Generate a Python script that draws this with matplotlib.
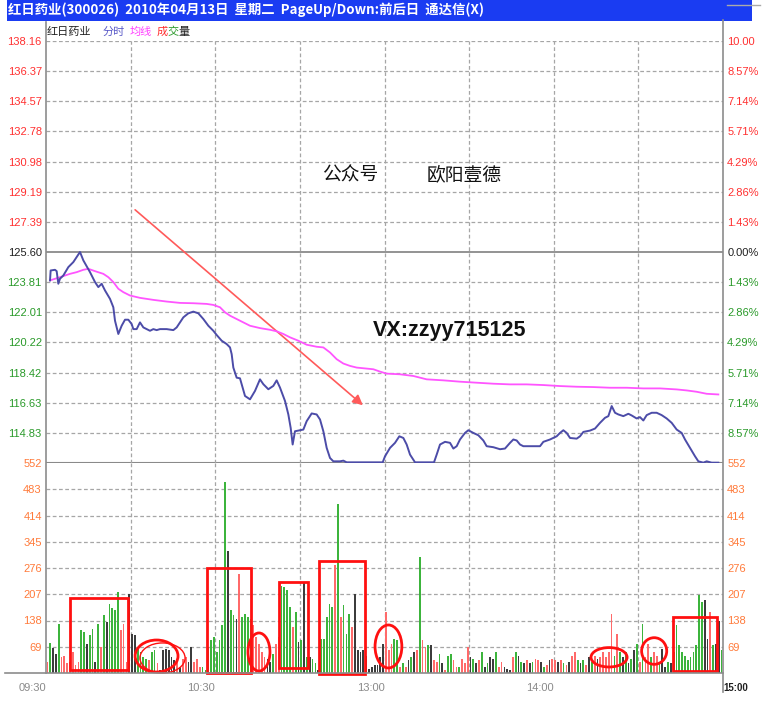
import matplotlib
matplotlib.use("Agg")
import matplotlib.pyplot as plt
from matplotlib.patches import Rectangle, Ellipse
from matplotlib.lines import Line2D

plt.rcParams['font.family'] = ['Liberation Sans', 'Noto Sans CJK SC', 'DejaVu Sans']

# ---------------- data ----------------
price_ticks = [138.16, 136.37, 134.57, 132.78, 130.98, 129.19, 127.39, 125.60,
               123.81, 122.01, 120.22, 118.42, 116.63, 114.83]
price_labels = ["138.16", "136.37", "134.57", "132.78", "130.98", "129.19", "127.39",
                "125.60", "123.81", "122.01", "120.22", "118.42", "116.63", "114.83"]
pct_labels = ["10.00", "8.57%", "7.14%", "5.71%", "4.29%", "2.86%", "1.43%", "0.00%",
              "1.43%", "2.86%", "4.29%", "5.71%", "7.14%", "8.57%"]
label_tone = ['r'] * 7 + ['k'] + ['g'] * 6
prev_close = 125.60
price_low, price_high = 113.04, 138.16
vol_ticks = [552, 483, 414, 345, 276, 207, 138, 69]
vol_labels = ["552", "483", "414", "345", "276", "207", "138", "69"]
time_ticks = [0, 60, 120, 180, 240]
time_labels = ["09:30", "10:30", "13:00", "14:00", "15:00"]
grid_minutes = [30, 60, 90, 120, 150, 180, 210]

# price line (minute, price)
price_min = [1.42, 1.65, 3.19, 3.78, 4.37, 4.96, 6.14, 7.92, 9.69, 10.87, 12.05, 13.24, 15.60,
             17.37, 18.55, 19.73, 20.92, 22.69, 23.87, 24.46, 25.64, 26.82, 28.01, 29.19, 30.37,
             30.96, 32.14, 33.32, 34.51, 35.69, 36.87, 38.05, 39.23, 40.41, 42.78, 45.14, 46.32,
             47.50, 48.69, 50.46, 52.23, 54.00, 55.78, 57.55, 59.32, 60.50, 62.27, 64.05, 65.23,
             65.82, 66.41, 67.59, 68.77, 69.37, 70.55, 72.32, 74.09, 75.86, 77.05, 78.82, 80.59,
             81.77, 82.95, 84.73, 85.91, 86.74, 87.44, 88.27, 91.23, 92.41, 94.18, 95.95, 97.14,
             98.32, 99.50, 100.68, 101.86, 104.22, 105.41, 106.59,
             119.36, 120.18, 121.96, 123.73, 125.26, 126.68, 127.86, 129.05, 130.82, 136.14,
             137.55, 138.50, 139.68, 141.45, 143.23, 144.41, 145.59, 146.77, 148.54, 149.72,
             151.50, 153.27, 155.04, 156.22, 158.59, 160.95, 162.72, 164.50, 165.68, 166.86,
             168.04, 169.22, 175.13, 176.31, 178.68, 181.04, 182.22, 183.40, 184.58, 185.77,
             188.13, 189.31, 190.49, 192.86, 194.63, 196.40, 198.17, 199.36, 200.54, 201.72,
             202.90, 204.67, 206.45, 207.63, 209.40, 210.58, 211.76, 212.95, 214.72, 216.49,
             218.26, 220.04, 221.81, 223.58, 225.35, 226.53, 228.31, 230.08, 231.26, 233.03,
             234.21, 235.99, 238.35]
price_val = [123.91, 124.50, 124.54, 124.46, 123.71, 124.01, 124.20, 124.70, 125.00, 125.30,
             125.60, 125.10, 124.40, 123.81, 123.51, 123.71, 123.31, 122.81, 122.31, 121.51,
             120.72, 121.21, 121.57, 121.57, 121.31, 121.01, 121.01, 121.41, 121.11, 121.01,
             120.91, 121.01, 120.95, 121.01, 121.01, 120.95, 121.11, 121.41, 121.71, 121.95,
             122.05, 121.95, 121.61, 121.21, 120.91, 120.66, 120.32, 120.12, 119.92, 119.52,
             118.72, 118.12, 118.08, 117.73, 117.03, 116.83, 117.33, 118.02, 117.73, 117.43,
             117.63, 117.96, 117.53, 116.73, 115.93, 115.13, 114.14, 114.93, 115.03, 115.53,
             115.99, 115.93, 115.63, 114.93, 113.94, 113.34, 113.14, 113.14, 113.18, 113.08,
             113.08, 113.44, 113.94, 114.24, 114.63, 114.53, 114.14, 113.54, 113.08, 113.08,
             113.08, 113.54, 114.14, 114.30, 114.24, 113.90, 114.04, 114.44, 114.83, 114.99,
             114.83, 114.69, 114.38, 114.04, 113.98, 113.86, 113.90, 114.24, 114.44, 114.38,
             114.14, 114.04, 114.04, 114.30, 114.44, 114.63, 114.83, 114.99, 114.83, 114.53,
             114.49, 114.63, 114.89, 114.97, 115.09, 115.43, 115.73, 115.83, 116.43, 116.03,
             115.93, 115.83, 115.97, 115.87, 115.69, 115.77, 115.57, 115.89, 116.03, 116.03,
             115.89, 115.69, 115.43, 115.03, 114.83, 114.44, 113.94, 113.44, 113.14, 113.06,
             113.14, 113.06, 113.06]

# average line (minute, price)
avg_min = [1.42, 4.96, 8.51, 10.87, 13.24, 15.01, 17.37, 20.32, 22.10, 23.87, 25.64, 27.41,
           29.78, 33.32, 38.05, 42.78, 47.50, 52.23, 56.96, 59.32, 61.68, 63.46, 65.23, 68.77,
           72.32, 75.86, 79.41, 81.77, 84.14, 86.50, 89.45, 92.41, 95.95, 98.32, 100.68, 103.04,
           105.41, 107.77, 110.13, 112.50, 116.04, 118.41, 120.77, 125.50, 130.23, 134.95,
           140.86, 146.77, 152.68, 158.59, 164.50, 170.40, 176.31, 182.22, 188.13, 194.04,
           199.95, 205.86, 211.76, 217.67, 223.58, 227.13, 230.67, 234.21, 238.35]
avg_val = [123.91, 124.10, 124.30, 124.40, 124.54, 124.60, 124.46, 124.30, 124.10, 123.81,
           123.41, 123.21, 123.01, 122.87, 122.75, 122.65, 122.57, 122.55, 122.51, 122.45,
           122.31, 122.01, 121.81, 121.51, 121.21, 121.07, 120.97, 120.88, 120.72, 120.52,
           120.32, 120.08, 119.96, 119.92, 119.62, 119.22, 118.96, 118.82, 118.72, 118.68,
           118.62, 118.48, 118.36, 118.32, 118.22, 118.02, 117.96, 117.88, 117.82, 117.76,
           117.72, 117.72, 117.68, 117.62, 117.58, 117.56, 117.52, 117.52, 117.48, 117.48,
           117.42, 117.36, 117.28, 117.16, 117.12]

# per-minute volume and bar colour (r = up, g = down, k = flat)
volume = [30, 80, 65, 50, 130, 42, 44, 25, 28, 55,
          20, 30, 112, 107, 77, 99, 116, 28, 130, 69,
          152, 134, 182, 170, 165, 213, 112, 130, 30, 208,
          103, 99, 68, 55, 42, 38, 33, 55, 60, 25,
          8, 60, 64, 60, 42, 33, 29, 16, 38, 42,
          29, 68, 29, 38, 16, 16, 7, 68, 86, 95,
          55, 86, 125, 502, 322, 165, 152, 143, 261, 147,
          156, 147, 143, 125, 95, 77, 55, 42, 38, 29,
          51, 77, 95, 230, 226, 217, 173, 121, 160, 81,
          86, 239, 42, 42, 38, 25, 7, 90, 90, 147,
          182, 173, 283, 445, 147, 178, 103, 156, 121, 208,
          60, 55, 60, 46, 11, 16, 20, 20, 42, 77,
          160, 60, 77, 90, 86, 16, 25, 16, 33, 42,
          55, 60, 305, 86, 68, 73, 73, 33, 29, 51,
          25, 7, 46, 51, 33, 16, 16, 38, 25, 68,
          42, 38, 25, 33, 55, 16, 25, 42, 38, 55,
          16, 29, 16, 11, 7, 42, 55, 46, 29, 25,
          33, 25, 29, 38, 33, 29, 16, 20, 33, 38,
          33, 29, 33, 25, 20, 29, 46, 55, 33, 25,
          33, 20, 42, 29, 46, 38, 42, 55, 42, 55,
          156, 46, 103, 55, 42, 55, 25, 38, 60, 77,
          29, 130, 42, 77, 42, 55, 46, 25, 64, 16,
          29, 25, 55, 125, 73, 55, 46, 33, 42, 55,
          73, 204, 187, 191, 90, 160, 73, 77, 138, 60]
vol_dir = ("rgkkgrrrrr" "rrggkggkgr" "gkggggrrrk" "kkggggrggr" "kkkkkkrkrr"
           "kkrrrggggg" "ggggkggkrg" "gggrrrrrkk" "grrggggrgk" "gkgkggkggg"
           "ggrgrgggrk" "kkkkkkkkkk" "rrrggrgrkg" "krgrrgkrrg" "krggrrgrrr"
           "kgkrgkgkkg" "rrkkkrgkgk" "rkgrrkgrkr" "rkrgrkrrgk" "grkgrkrrrr"
           "rgrgkgkgkg" "rgrrgrrgkk" "gkgggggggg" "gggkkrgkkg")

COL = {'r': '#ff6a6a', 'g': '#3cb43c', 'k': '#3c3c3c'}
TXT = {'r': '#ff3030', 'g': '#2a9a2a', 'k': '#202020'}
ORANGE = '#ff7a3a'

# ---------------- figure geometry ----------------
W, H = 763, 703
fig = plt.figure(figsize=(W / 100, H / 100), dpi=100)
fig.patch.set_facecolor('white')


def fx(px):
    return px / W


def fy(py):
    return 1 - py / H


X0, X1 = 46, 723
YP0, YP1, YV1 = 41, 463, 673

ax_p = fig.add_axes([fx(X0), fy(YP1), (X1 - X0) / W, (YP1 - YP0) / H])
ax_v = fig.add_axes([fx(X0), fy(YV1), (X1 - X0) / W, (YV1 - YP1) / H])

for ax in (ax_p, ax_v):
    ax.set_xlim(0, 240)
    ax.set_facecolor('none')
    for s in ax.spines.values():
        s.set_visible(False)
    ax.tick_params(axis='both', length=0)

ax_p.set_ylim(price_low, price_high)
ax_v.set_ylim(0, 552)

# grid
GRID = '#a6a6a6'
for p in price_ticks:
    if p == prev_close:
        ax_p.axhline(p, color='#8a8a8a', lw=1.3, zorder=1)
    else:
        ax_p.axhline(p, color=GRID, lw=0.9, ls=(0, (3, 2)), zorder=1)
ax_p.axhline(price_low, color='#8a8a8a', lw=1.5, zorder=1)
for v in vol_ticks[1:]:
    ax_v.axhline(v, color=GRID, lw=0.9, ls=(0, (3, 2)), zorder=1)
for m in grid_minutes:
    ax_p.axvline(m, color=GRID, lw=0.9, ls=(0, (3, 2)), zorder=1)
    ax_v.axvline(m, color=GRID, lw=0.9, ls=(0, (3, 2)), zorder=1)

# data
ax_p.plot(avg_min, avg_val, color='#ff55ff', lw=1.3, zorder=4)
ax_p.plot(price_min, price_val, color='#4c4ca8', lw=1.4, zorder=5)
ax_v.bar([i + 0.5 for i in range(len(volume))], volume, width=0.62,
         color=[COL[c] for c in vol_dir], zorder=3)

# left/right tick labels
ax_p.set_yticks(price_ticks)
ax_p.set_yticklabels(price_labels, fontsize=8)
for lab, t in zip(ax_p.get_yticklabels(), label_tone):
    lab.set_color(TXT[t])
ax_p.tick_params(axis='y', pad=3)
ax_p.set_xticks([])

ax_pr = ax_p.twinx()
ax_pr.set_ylim(price_low, price_high)
ax_pr.set_yticks(price_ticks)
ax_pr.set_yticklabels(pct_labels, fontsize=8)
for lab, t in zip(ax_pr.get_yticklabels(), label_tone):
    lab.set_color(TXT[t])
for s in ax_pr.spines.values():
    s.set_visible(False)
ax_pr.tick_params(axis='y', length=0, pad=3)

ax_v.set_yticks(vol_ticks)
ax_v.set_yticklabels(vol_labels, fontsize=8, color=ORANGE)
ax_v.tick_params(axis='y', pad=3)
ax_vr = ax_v.twinx()
ax_vr.set_ylim(0, 552)
ax_vr.set_yticks(vol_ticks)
ax_vr.set_yticklabels(vol_labels, fontsize=8, color=ORANGE)
for s in ax_vr.spines.values():
    s.set_visible(False)
ax_vr.tick_params(axis='y', length=0, pad=3)

ax_v.set_xticks(time_ticks)
ax_v.set_xticklabels(time_labels, fontsize=8, color='#8a8a8a')
ax_v.tick_params(axis='x', pad=7)
xl = ax_v.get_xticklabels()
for lab in xl[:-1]:
    lab.set_ha('right')
xl[-1].set_ha('left')
xl[-1].set_color('#202020')
xl[-1].set_fontweight('bold')
xl[-1].set_fontsize(7)

# frame lines
AX = '#8c8c8c'
fig.add_artist(Line2D([fx(X0), fx(X0)], [fy(22), fy(YV1)], color=AX, lw=1.2))
fig.add_artist(Line2D([fx(5), fx(X1)], [fy(YV1), fy(YV1)], color=AX, lw=1.2))
fig.add_artist(Line2D([fx(X1), fx(X1)], [fy(20), fy(692)], color=AX, lw=1.2))
fig.add_artist(Line2D([fx(727), fx(760)], [fy(5), fy(5)], color='#aaaaaa', lw=1.0))

# header bar
fig.add_artist(Rectangle((fx(7), fy(21)), (752 - 7) / W, 21 / H, transform=fig.transFigure,
                         facecolor='#1a3cf2', edgecolor='none'))
fig.text(fx(8), fy(14), "红日药业(300026)  2010年04月13日  星期二  PageUp/Down:前后日  通达信(X)",
         color='white', fontsize=9.6, fontweight='bold', va='baseline',
         family=['Noto Sans CJK SC', 'DejaVu Sans'])

# legend row
CJK = ['Noto Sans CJK SC', 'DejaVu Sans']
legend_items = [("红日药业", 47, '#202020'), ("分时", 103, '#5a5ac8'), ("均线", 130, '#ff40ff'),
                ("成", 157, '#ff3030'), ("交", 167, '#2a9a2a'), ("量", 178, '#202020')]
for txt, x, c in legend_items:
    fig.text(fx(x), fy(32), txt, color=c, fontsize=8, va='center', ha='left', family=CJK)

# watermark texts
fig.text(fx(322), fy(175), "公众号", fontsize=13.5, va='center', ha='left', family=CJK, color='#111111')
fig.text(fx(502), fy(175), "欧阳壹德", fontsize=13.5, va='center', ha='right', family=CJK, color='#111111')
fig.text(fx(450), fy(330), "VX:zzyy715125", fontsize=15.5, fontweight='bold', va='center',
         ha='center', color='#111111')

# red arrow
ax_p.annotate('', xy=(fx(365), fy(407)), xytext=(fx(133), fy(208)),
              xycoords='figure fraction', textcoords='figure fraction',
              arrowprops=dict(arrowstyle='-|>', color='#ff5a5a', lw=1.2, mutation_scale=15))

# red marks on volume panel (minute, volume coordinates)
RED = '#ff1010'
rects = [(8.5, 7.9, 20.6, 189), (57.0, 0.8, 15.6, 276), (82.6, 13.9, 10.2, 226),
         (96.8, -2.6, 16.3, 297), (222.2, 5.3, 15.6, 143)]
for x, y, w, h in rects:
    ax_v.add_patch(Rectangle((x, y), w, h, fill=False, edgecolor=RED, lw=2.0,
                             zorder=6, clip_on=False))
ells = [(39.2, 44.7, 15.2, 84), (41.3, 39.5, 16.0, 79), (75.5, 55.2, 7.8, 100),
        (121.4, 69.7, 9.5, 113), (199.6, 41.3, 12.8, 51), (215.6, 57.8, 8.9, 70)]
for k, (x, y, w, h) in enumerate(ells):
    ax_v.add_patch(Ellipse((x, y), w, h, fill=False, edgecolor=RED,
                           lw=2.0 if k != 1 else 1.0, zorder=6, clip_on=False))

fig.savefig("out.png", dpi=100)
